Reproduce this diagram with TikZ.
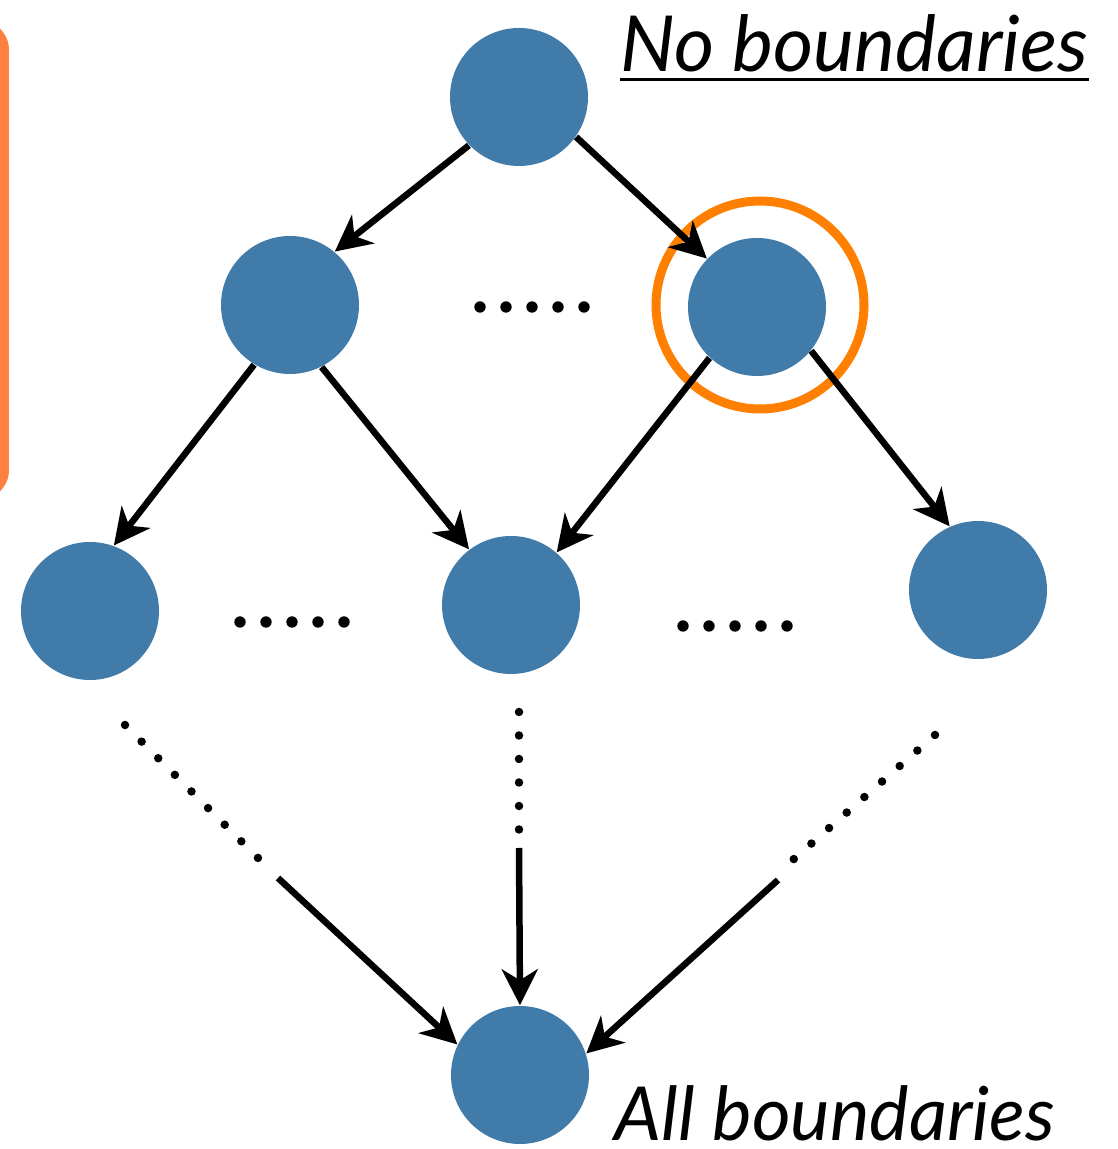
\documentclass[tikz,border=0pt]{standalone}
\usepackage{fontspec}
\setmainfont{Lato}
\usepackage{tikz}
\usetikzlibrary{positioning,calc,arrows.meta}
\definecolor{NodeBlue}{RGB}{65,123,170}
\definecolor{RingOrange}{RGB}{255,128,0}
\definecolor{BoxOrange}{RGB}{255,128,64}
\tikzset{
    latnode/.style={circle, fill=NodeBlue, minimum size=1.38cm, inner sep=0pt},
    latedge/.style={-{Stealth[length=0.36cm, width=0.36cm, inset=0.11cm]}, line width=0.065cm, black},
    latdots/.style={line width=0.085cm, line cap=round, dash pattern=on 0pt off 0.235cm},
    lattext/.style={inner sep=0pt, font=\itshape\fontsize{22}{26}\selectfont}
}
\begin{document}
\begin{tikzpicture}[
                % cercle de mise en evidence
                ring/.style={draw=RingOrange, line width=0.09cm}
            ]
                \clip (0,0) rectangle (11.18,11.49);
                \fill[BoxOrange, rounded corners=0.3cm] (-1,6.49) rectangle (0.09,11.29);

                % Treillis: aucune frontiere -> toutes les frontieres
                \node[latnode] (top) at (5.19,10.52) {};
                \node[latnode] (l1a) at (2.90,8.44) {};
                \node[latnode] (l1b) at (7.57,8.42) {};
                \node[latnode] (l2a) at (0.90,5.38) {};
                \node[latnode] (l2b) at (5.11,5.44) {};
                \node[latnode] (l2c) at (9.78,5.59) {};
                \node[latnode] (bot) at (5.20,0.74) {};
                \draw[ring] (7.60,8.44) circle (1.04);

                \node[lattext, anchor=base west] (noB) at (6.20,10.77) {No boundaries};
                \draw[line width=0.03cm] ([yshift=-0.08cm]noB.base west) -- ([yshift=-0.08cm]noB.base east);
                \node[lattext, anchor=base west, font=\itshape\fontsize{21.2}{25}\selectfont] (allB) at (6.14,0.09) {All boundaries};

                \coordinate (dotsA) at (4.80,8.42);
                \coordinate (dotsB) at (2.40,5.27);
                \coordinate (dotsC) at (6.83,5.23);
                \foreach \d in {dotsA,dotsB,dotsC}
                    \foreach \i in {0,...,4}
                        \fill ($(\d)+(\i*0.26,0)$) circle (0.057);

                \draw[latedge] (top.224) -- (l1a.50);
                \draw[latedge] (top.325) -- (l1b.136);
                \draw[latedge] (l1a.239) -- (l2a.70);
                \draw[latedge] (l1a.297) -- (l2b.127);
                \draw[latedge] (l1b.227) -- (l2b.49);
                \draw[latedge] (l1b.321) -- (l2c.114);

                \coordinate (pa) at (1.25,4.24);
                \coordinate (qa) at (2.66,2.83);
                \coordinate (ja) at (2.78,2.71);
                \coordinate (pb) at (5.19,4.37);
                \coordinate (qb) at (5.19,3.16);
                \coordinate (jb) at (5.19,3.01);
                \coordinate (pc) at (9.35,4.14);
                \coordinate (qc) at (7.87,2.84);
                \coordinate (jc) at (7.78,2.69);
                \draw[latdots] (pa) -- (qa);
                \draw[latdots] (pb) -- (qb);
                \draw[latdots] (pc) -- (qc);
                \draw[latedge] (ja) -- (bot.154);
                \draw[latedge] (jb) -- (bot.90);
                \draw[latedge] (jc) -- (bot.18);
            \end{tikzpicture}
\end{document}
